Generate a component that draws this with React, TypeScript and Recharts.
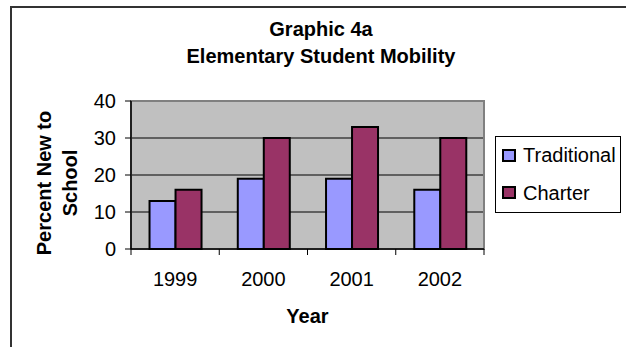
import React from 'react';
import {
  BarChart,
  Bar,
  XAxis,
  YAxis,
  CartesianGrid,
  Legend,
  ReferenceArea,
} from 'recharts';

// Data
const years = ['1999', '2000', '2001', '2002'];
const traditional = [13, 19, 19, 16];
const charter = [16, 30, 33, 30];
const yTicks = [0, 10, 20, 30, 40];
const seriesNames = ['Traditional', 'Charter'];
const seriesColors = ['#9999FF', '#993366'];

const data = years.map((year, i) => ({
  year,
  Traditional: traditional[i],
  Charter: charter[i],
}));

// Layout
const W = 626;
const H = 347;
const Y_AXIS_W = 40;
const X_AXIS_H = 30;
const MARGIN = { top: 101, right: 142, bottom: 68, left: 91 };
const PLOT_W = W - MARGIN.left - MARGIN.right - Y_AXIS_W;
const FONT = '"Liberation Sans", Arial, sans-serif';

// Category tick: label at the band centre, tick marks on the band edges
const YearTick = (props: any) => {
  const { x, y, payload, index } = props;
  const band = PLOT_W / years.length;
  const left = x - band / 2;
  return (
    <g>
      <line x1={left} x2={left} y1={y} y2={y + 6} stroke="#000" strokeWidth={1} />
      {index === years.length - 1 && (
        <line x1={left + band} x2={left + band} y1={y} y2={y + 6} stroke="#000" strokeWidth={1} />
      )}
      <text
        x={x}
        y={y + 37}
        textAnchor="middle"
        fontFamily={FONT}
        fontSize={20}
        fill="#000"
      >
        {payload.value}
      </text>
    </g>
  );
};

const YTitle = (props: any) => {
  const vb = props.viewBox || { x: 91, y: 101, width: 40, height: 148 };
  const cy = vb.y + vb.height / 2 + 8;
  return (
    <text
      transform={`translate(51, ${cy}) rotate(-90)`}
      textAnchor="middle"
      fontFamily={FONT}
      fontSize={20}
      fontWeight="bold"
      fill="#000"
    >
      <tspan x={0} dy={0}>Percent New to</tspan>
      <tspan x={0} dy={26}>School</tspan>
    </text>
  );
};

const XTitle = (props: any) => {
  const vb = props.viewBox || { x: 131, y: 249, width: 353, height: 30 };
  return (
    <text
      x={vb.x + vb.width / 2}
      y={vb.y + 74}
      textAnchor="middle"
      fontFamily={FONT}
      fontSize={20}
      fontWeight="bold"
      fill="#000"
    >
      Year
    </text>
  );
};

const LegendBox = () => (
  <div
    style={{
      position: 'relative',
      width: 126,
      height: 77,
      boxSizing: 'border-box',
      border: '1px solid #000',
      background: '#fff',
      fontFamily: FONT,
      fontSize: 20,
      lineHeight: '20px',
      color: '#000',
    }}
  >
    {seriesNames.map((name, i) => (
      <React.Fragment key={name}>
        <div
          style={{
            position: 'absolute',
            left: 6,
            top: 12 + i * 37,
            width: 14,
            height: 13,
            boxSizing: 'border-box',
            border: '2px solid #000',
            background: seriesColors[i],
          }}
        />
        <div
          style={{
            position: 'absolute',
            left: 27,
            top: 8 + i * 38,
            whiteSpace: 'nowrap',
          }}
        >
          {name}
        </div>
      </React.Fragment>
    ))}
  </div>
);

export default function App() {
  return (
    <div
      style={{
        position: 'absolute',
        left: 0,
        top: 0,
        width: W,
        height: H,
        overflow: 'hidden',
        background: '#fff',
      }}
    >
      {/* chart frame */}
      <div
        style={{
          position: 'absolute',
          left: 10,
          top: 6,
          width: 700,
          height: 400,
          border: '2px solid #333',
          boxSizing: 'border-box',
        }}
      />
      {/* title */}
      <div
        style={{
          position: 'absolute',
          left: 0,
          top: 16.3,
          width: 642,
          textAlign: 'center',
          fontFamily: FONT,
          fontSize: 20,
          fontWeight: 'bold',
          lineHeight: '27px',
          color: '#000',
        }}
      >
        <div>Graphic 4a</div>
        <div>Elementary Student Mobility</div>
      </div>
      <div style={{ position: 'absolute', left: 0, top: 0 }}>
        <BarChart
          width={W}
          height={H}
          data={data}
          margin={MARGIN}
          barCategoryGap="21%"
          barGap={0}
        >
          <CartesianGrid
            vertical={false}
            stroke="#000"
            strokeWidth={1}
            fill="#C0C0C0"
            fillOpacity={1}
          />
          <ReferenceArea
            y1={0}
            y2={40}
            fill="none"
            stroke="#808080"
            strokeWidth={2}
            ifOverflow="visible"
          />
          <XAxis
            dataKey="year"
            height={X_AXIS_H}
            axisLine={{ stroke: '#000', strokeWidth: 1.5 }}
            tickLine={false}
            tickSize={0}
            tickMargin={0}
            tick={<YearTick />}
            interval={0}
            label={<XTitle />}
          />
          <YAxis
            width={Y_AXIS_W}
            domain={[0, 40]}
            ticks={yTicks}
            interval={0}
            axisLine={{ stroke: '#000', strokeWidth: 1.5 }}
            tickLine={{ stroke: '#000' }}
            tickSize={6}
            tickMargin={9}
            tick={{ fontFamily: FONT, fontSize: 20, fill: '#000' }}
            label={<YTitle />}
          />
          <Legend
            layout="horizontal"
            align="center"
            verticalAlign="middle"
            content={<LegendBox />}
            wrapperStyle={{ position: 'absolute', left: 495, top: 136, width: 126, height: 77 }}
          />
          <Bar
            dataKey="Traditional"
            name={seriesNames[0]}
            fill={seriesColors[0]}
            stroke="#000"
            strokeWidth={2}
            isAnimationActive={false}
          />
          <Bar
            dataKey="Charter"
            name={seriesNames[1]}
            fill={seriesColors[1]}
            stroke="#000"
            strokeWidth={2}
            isAnimationActive={false}
          />
        </BarChart>
      </div>
    </div>
  );
}
